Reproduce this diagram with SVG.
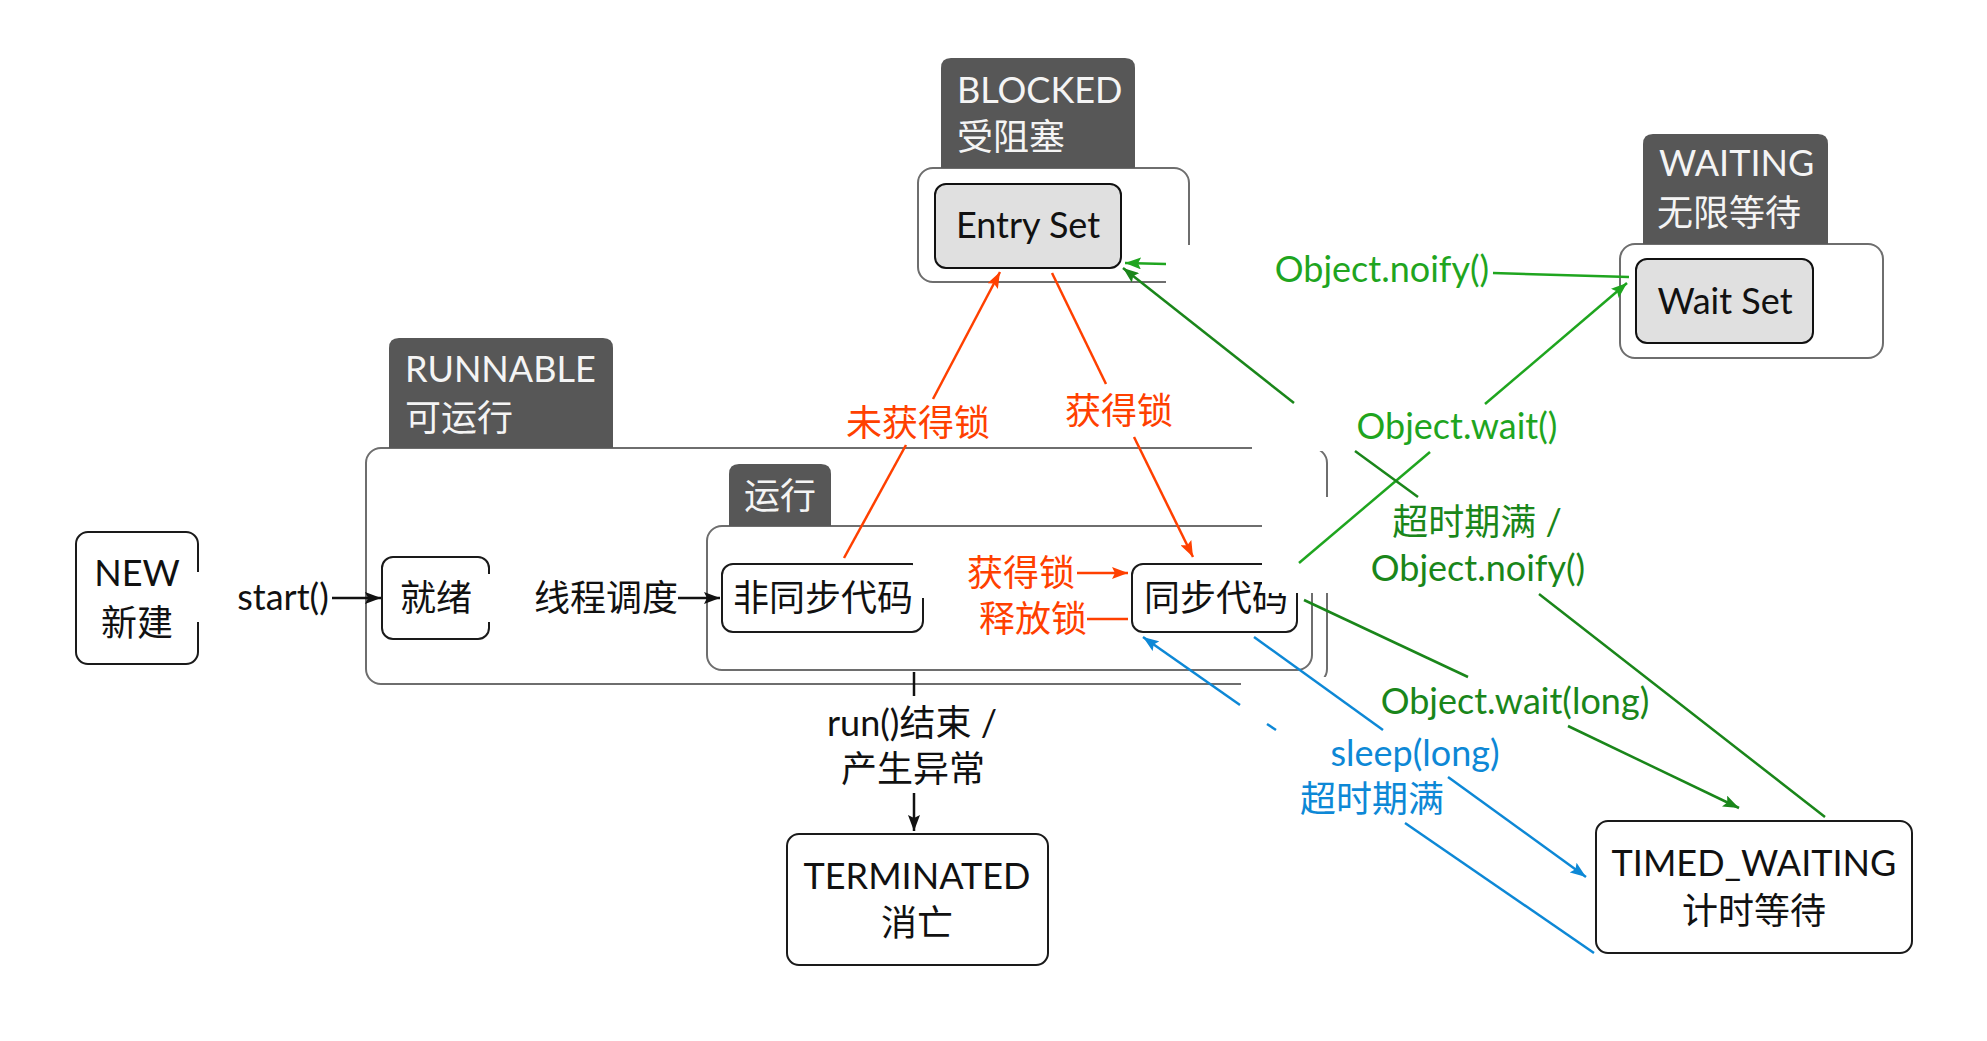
<svg xmlns="http://www.w3.org/2000/svg" width="1987" height="1041" viewBox="0 0 1987 1041">
<style>
.box{fill:#fff;stroke:#1a1a1a;stroke-width:2}
.outer{fill:#fff;stroke:#6e6e6e;stroke-width:2}
.set{fill:#e0e0e0;stroke:#111;stroke-width:2}
.tab{fill:#575757}
text{font-family:Lato,"Noto Sans CJK SC",sans-serif;font-size:36px;fill:#111}
.w{fill:#f4f4f4}
.m{text-anchor:middle}
.red{fill:#ff4000}
.gb{fill:#1fa51f}
.gd{fill:#1a861a}
.bl{fill:#0d88d6}
.ln{fill:none;stroke-width:2.5}
.k{stroke:#111}
.r{stroke:#ff4000}
.g1{stroke:#1fa51f}
.g2{stroke:#1a861a}
.b{stroke:#0d88d6}
</style>
<defs>
<marker id="ak" markerUnits="userSpaceOnUse" markerWidth="16" markerHeight="12" refX="16" refY="6" orient="auto"><path d="M0,0 L16,6 L0,12 L3,6 z" fill="#111"/></marker>
<marker id="ar" markerUnits="userSpaceOnUse" markerWidth="16" markerHeight="12" refX="16" refY="6" orient="auto"><path d="M0,0 L16,6 L0,12 L3,6 z" fill="#ff4000"/></marker>
<marker id="ag1" markerUnits="userSpaceOnUse" markerWidth="16" markerHeight="12" refX="16" refY="6" orient="auto"><path d="M0,0 L16,6 L0,12 L3,6 z" fill="#1fa51f"/></marker>
<marker id="ag2" markerUnits="userSpaceOnUse" markerWidth="16" markerHeight="12" refX="16" refY="6" orient="auto"><path d="M0,0 L16,6 L0,12 L3,6 z" fill="#1a861a"/></marker>
<marker id="ab" markerUnits="userSpaceOnUse" markerWidth="16" markerHeight="12" refX="16" refY="6" orient="auto"><path d="M0,0 L16,6 L0,12 L3,6 z" fill="#0d88d6"/></marker>
</defs>
<rect width="1987" height="1041" fill="#fff"/>

<g id="blocked">
<rect class="outer" x="918" y="168" width="271" height="114" rx="15"/>
<path class="tab" d="M941,168 V68 Q941,58 951,58 H1125 Q1135,58 1135,68 V168 Z"/>
<text class="w" x="957" y="103">BLOCKED</text>
<text class="w" x="957" y="150">受阻塞</text>
</g>
<g id="entry-set">
<rect class="set" x="935" y="184" width="186" height="84" rx="11"/>
<text class="m" x="1028" y="238">Entry Set</text>
</g>

<g id="waiting">
<rect class="outer" x="1620" y="244" width="263" height="114" rx="15"/>
<path class="tab" d="M1643,244 V144 Q1643,134 1653,134 H1818 Q1828,134 1828,144 V244 Z"/>
<text class="w" x="1659" y="176">WAITING</text>
<text class="w" x="1657" y="226">无限等待</text>
</g>
<g id="wait-set">
<rect class="set" x="1636" y="259" width="177" height="84" rx="11"/>
<text class="m" x="1725" y="314">Wait Set</text>
</g>

<g id="new">
<rect class="box" x="76" y="532" width="122" height="132" rx="12"/>
<text class="m" x="137" y="586">NEW</text>
<text class="m" x="137" y="636">新建</text>
</g>

<g id="runnable">
<rect class="outer" x="366" y="448" width="961" height="236" rx="15"/>
<path class="tab" d="M389,448 V348 Q389,338 399,338 H603 Q613,338 613,348 V448 Z"/>
<text class="w" x="405" y="382">RUNNABLE</text>
<text class="w" x="405" y="431">可运行</text>
</g>
<g id="ready">
<rect class="box" x="382" y="557" width="107" height="82" rx="11"/>
<text class="m" x="436" y="611">就绪</text>
</g>
<g id="running">
<rect class="outer" x="707" y="526" width="605" height="144" rx="15"/>
<path class="tab" d="M729,526 V474 Q729,464 739,464 H821 Q831,464 831,474 V526 Z"/>
<text class="w" x="744" y="509">运行</text>
</g>
<g id="non-sync">
<rect class="box" x="722" y="564" width="201" height="68" rx="11"/>
<text x="733" y="611">非同步代码</text>
</g>
<g id="sync">
<rect class="box" x="1132" y="564" width="165" height="68" rx="11"/>
<text x="1144" y="611">同步代码</text>
</g>

<g id="terminated">
<rect class="box" x="787" y="834" width="261" height="131" rx="12"/>
<text class="m" x="917" y="889">TERMINATED</text>
<text class="m" x="917" y="936">消亡</text>
</g>

<g id="timed-waiting">
<rect class="box" x="1596" y="821" width="316" height="132" rx="12"/>
<text class="m" x="1754" y="876">TIMED_WAITING</text>
<text class="m" x="1754" y="924">计时等待</text>
</g>

<g id="label-backgrounds" fill="#fff">
<rect x="1166" y="245" width="334" height="55"/>
<rect x="196" y="572" width="139" height="50"/>
<rect x="486" y="574" width="197" height="48"/>
<rect x="913" y="550" width="169" height="48"/>
<rect x="1262" y="497" width="338" height="96"/>
<rect x="1252" y="403" width="313" height="48"/>
<rect x="1241" y="677" width="419" height="49"/>
</g>

<g id="connectors">
<path class="ln k" d="M332,598 L381,598" marker-end="url(#ak)"/>
<path class="ln k" d="M678,598 L720,598" marker-end="url(#ak)"/>
<path class="ln k" d="M914,672 L914,696"/>
<path class="ln k" d="M914,793 L914,831" marker-end="url(#ak)"/>

<path class="ln r" d="M844,558 L906,445"/>
<path class="ln r" d="M933,399 L1000,272" marker-end="url(#ar)"/>
<path class="ln r" d="M1052,273 L1106,384"/>
<path class="ln r" d="M1134,437 L1193,557" marker-end="url(#ar)"/>
<path class="ln r" d="M1077,573 L1128,573" marker-end="url(#ar)"/>
<path class="ln r" d="M1087,619 L1128,619"/>

<path class="ln g1" d="M1629,277 L1493,273"/>
<path class="ln g1" d="M1166,264 L1125,263" marker-end="url(#ag1)"/>
<path class="ln g1" d="M1299,563 L1430,452"/>
<path class="ln g1" d="M1485,404 L1627,283" marker-end="url(#ag1)"/>

<path class="ln g2" d="M1825,817 L1539,594"/>
<path class="ln g2" d="M1418,497 L1355,451"/>
<path class="ln g2" d="M1294,403 L1123,268" marker-end="url(#ag2)"/>
<path class="ln g2" d="M1304,600 L1468,677"/>
<path class="ln g2" d="M1568,726 L1739,808" marker-end="url(#ag2)"/>

<path class="ln b" d="M1254,637 L1383,730"/>
<path class="ln b" d="M1448,777 L1586,877" marker-end="url(#ab)"/>
<path class="ln b" d="M1594,953 L1405,823"/>
<path class="ln b" d="M1276,730 L1267,724"/>
<path class="ln b" d="M1240,705 L1143,637" marker-end="url(#ab)"/>
</g>

<g id="labels">
<text class="m" x="283" y="610">start()</text>
<text class="m" x="606" y="611">线程调度</text>
<text class="m red" x="918" y="436">未获得锁</text>
<text class="m red" x="1119" y="424">获得锁</text>
<text class="m red" x="1021" y="586">获得锁</text>
<text class="m red" x="1033" y="632">释放锁</text>
<text class="m gb" x="1382" y="282">Object.noify()</text>
<text class="m gb" x="1457" y="439">Object.wait()</text>
<text class="m gd" x="1477" y="535">超时期满 /</text>
<text class="m gd" x="1478" y="581">Object.noify()</text>
<text class="m gd" x="1515" y="714">Object.wait(long)</text>
<text class="m bl" x="1415" y="766">sleep(long)</text>
<text class="m bl" x="1372" y="812">超时期满</text>
<text class="m" x="912" y="736">run()结束 /</text>
<text class="m" x="913" y="782">产生异常</text>
</g>
</svg>
